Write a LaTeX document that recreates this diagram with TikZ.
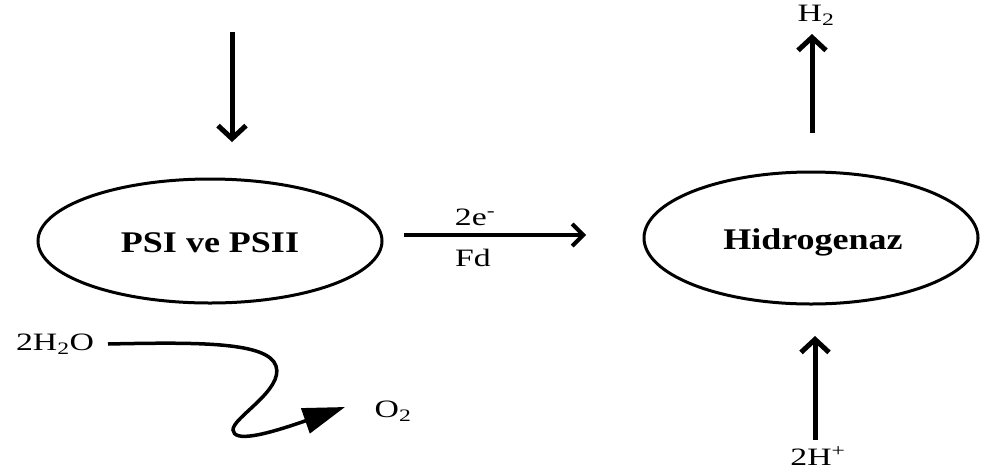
\documentclass[tikz,border=0pt]{standalone}
\usepackage{fontspec}
\setmainfont[FakeStretch=1.2]{Liberation Serif}
\newfontfamily\lblfont[FakeStretch=1.35]{Liberation Serif}
\usetikzlibrary{arrows.meta}
\begin{document}
\begin{tikzpicture}[x=1pt,y=-1pt,
  bigtext/.style={font=\fontsize{30}{34}\selectfont\bfseries},
  lbl/.style={font=\lblfont\fontsize{25}{28}\selectfont,inner sep=0pt},
  thickarrow/.style={line width=5pt,-{Straight Barb[length=13pt,width=28pt,line width=5pt]}},
  medarrow/.style={line width=4pt,-{Straight Barb[length=11pt,width=22pt,line width=4pt]}},
  wavy/.style={line width=3.5pt,-{Triangle[length=42pt,width=26pt]}}]
\useasboundingbox (0,0) rectangle (981,472);
% ellipses
\draw[line width=3pt] (210,241) ellipse [x radius=172, y radius=62];
\node[bigtext] (psi) at (210,243) {PSI ve PSII};
\draw[line width=3pt] (811,238) ellipse [x radius=167, y radius=66];
\node[bigtext] (hyd) at (813,242) {Hidrogenaz};
% light arrow
\coordinate (lt) at (232,32);
\coordinate (lb) at (232,142);
\draw[thickarrow] (lt) -- (lb);
% electron arrow
\coordinate (es) at (404,235);
\coordinate (ee) at (586,235);
\draw[medarrow] (es) -- (ee);
\node[lbl] (e2) at (475,217) {2e\textsuperscript{-}};
\node[lbl] (fd) at (473,258) {Fd};
% H2 out
\coordinate (hb) at (812,133);
\coordinate (ht) at (812,34);
\draw[thickarrow] (hb) -- (ht);
\node[lbl] (h2) at (816,15) {H\textsubscript{2}};
% protons in
\coordinate (pb) at (815,440);
\coordinate (pt) at (815,336);
\draw[thickarrow] (pb) -- (pt);
\node[lbl] (hp) at (818,456) {2H\textsuperscript{+}};
% water
\node[lbl] (w) at (55,344) {2H\textsubscript{2}O};
\node[lbl] (o2) at (393,411) {O\textsubscript{2}};
\coordinate (ws) at (108,344);
\coordinate (we) at (345,407);
\draw[wavy] (ws) .. controls (200,342) and (268,342) .. (276,366)
  .. controls (284,390) and (232,418) .. (233,430)
  .. controls (234,442) and (262,436) .. (we);
\end{tikzpicture}
\end{document}
